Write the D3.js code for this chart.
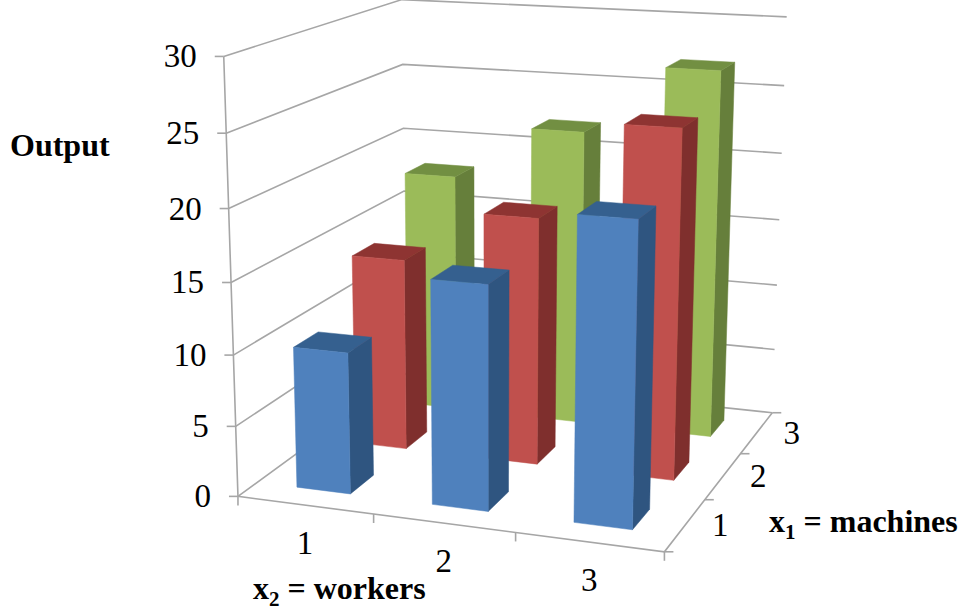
<!DOCTYPE html>
<html>
<head>
<meta charset="utf-8">
<style>
  html, body { margin: 0; padding: 0; background: #fff; }
  svg { display: block; }
  text { font-family: "Liberation Serif", "Times New Roman", serif; fill: #000; }
</style>
<script src="https://cdn.jsdelivr.net/npm/d3@7"></script>
</head>
<body>
<svg id="chart" width="962" height="612"></svg>
<script>
// Output by number of workers (across) and machines (into the page).
const workers = ["1", "2", "3"];
const machines = ["1", "2", "3"];
const outputMachines1 = [10, 15.6, 20.7];
const outputMachines2 = [14, 17.8, 24.7];
const outputMachines3 = [18, 22, 27];
const outputRows = [outputMachines1, outputMachines2, outputMachines3];
const outputTicks = [0, 5, 10, 15, 20, 25, 30];

const faceColors = [
  { front: "#4f81bd", side: "#2f5580", top: "#35608f" },
  { front: "#c0504d", side: "#7f2f2d", top: "#8e3432" },
  { front: "#9bbb59", side: "#667f3b", top: "#728f42" }
];

const svg = d3.select("#chart");
const gridColor = "#a6a6a6";

// Camera calibration: box coordinates [x, y, z] (each 0..1), page position, and fit weight.
const cameraPairs = [
  [0, 0, 0, 239, 495.5, 5], [0, 0, 1/6, 235, 425, 3], [0, 0, 1/3, 233, 354, 3],
  [0, 0, 2/3, 228.5, 209, 1], [0, 0, 5/6, 226, 134, 1], [0, 0, 1, 224, 57, 1],
  [1, 0, 0, 664, 553, 5], [1/3, 0, 0, 373, 517, 1], [2/3, 0, 0, 515, 535, 1],
  [1, 1/3, 0, 706, 499, 1], [1, 2/3, 0, 742, 452, 1],
  [1, 1, 0, 772, 411, 5], [1, 1, 0.5, 780, 220, 1], [1, 1, 2/3, 782, 154, 1],
  [1, 1, 5/6, 784, 87, 1], [1, 1, 1, 787, 18, 1],
  [0, 1, 0, 405, 383, 1], [0, 1, 2/3, 403, 127, 1], [0, 1, 5/6, 403, 63, 1], [0, 1, 1, 402, -1, 1]
];

// Weighted least-squares fit of a projective camera (11 unknowns) through normal equations.
function fitCamera(pairs) {
  const n = 11;
  const A = Array.from({ length: n }, () => new Array(n + 1).fill(0));
  const addRow = (row, rhs, weight) => {
    for (let i = 0; i < n; i++) {
      for (let j = 0; j < n; j++) A[i][j] += weight * row[i] * row[j];
      A[i][n] += weight * row[i] * rhs;
    }
  };
  pairs.forEach(([x, y, z, sx, sy, weight]) => {
    const u = sx / 1000, v = sy / 1000;
    addRow([x, y, z, 1, 0, 0, 0, 0, -u * x, -u * y, -u * z], u, weight);
    addRow([0, 0, 0, 0, x, y, z, 1, -v * x, -v * y, -v * z], v, weight);
  });
  for (let c = 0; c < n; c++) {
    let pivot = c;
    for (let r = c + 1; r < n; r++) if (Math.abs(A[r][c]) > Math.abs(A[pivot][c])) pivot = r;
    [A[c], A[pivot]] = [A[pivot], A[c]];
    for (let r = 0; r < n; r++) {
      if (r === c) continue;
      const f = A[r][c] / A[c][c];
      for (let k = c; k <= n; k++) A[r][k] -= f * A[c][k];
    }
  }
  return A.map((row, i) => row[n] / row[i]);
}

const cam = fitCamera(cameraPairs);

// Data scales into the unit box.
const xScale = d3.scaleBand().domain(workers).range([0, 1]).paddingInner(0.6).paddingOuter(0.3);
const yScale = d3.scaleBand().domain(machines).range([0, 1]).paddingInner(0.6).paddingOuter(0.3);
const zScale = d3.scaleLinear().domain([0, 30]).range([0, 1]);

function project(x, y, z) {
  const w = cam[8] * x + cam[9] * y + cam[10] * z + 1;
  return [
    1000 * (cam[0] * x + cam[1] * y + cam[2] * z + cam[3]) / w,
    1000 * (cam[4] * x + cam[5] * y + cam[6] * z + cam[7]) / w
  ];
}

const line = d3.line();
const closed = d3.line().curve(d3.curveLinearClosed);
const walls = svg.append("g").attr("fill", "none").attr("stroke", gridColor).attr("stroke-width", 1.6);

// Gridlines along the left and back walls.
outputTicks.forEach(t => {
  const z = zScale(t);
  walls.append("path").attr("d", line([project(0, 0, z), project(0, 1, z), project(1, 1, z)]));
});

// Box edges and tick marks.
walls.append("path").attr("d", line([project(0, 0, 1), project(0, 0, 0), project(1, 0, 0), project(1, 1, 0)]));
outputTicks.forEach(t => {
  const p = project(0, 0, zScale(t));
  walls.append("path").attr("d", line([p, [p[0] - 9, p[1]]]));
});
d3.range(4).forEach(i => {
  const p = project(i / 3, 0, 0);
  walls.append("path").attr("d", line([p, [p[0], p[1] + 9]]));
  const q = project(1, i / 3, 0);
  if (i > 0) walls.append("path").attr("d", line([q, [q[0] + 9, q[1]]]));
});
const cornerTick = project(1, 0, 0);
walls.append("path").attr("d", line([cornerTick, [cornerTick[0] + 9, cornerTick[1]]]));

// Bars, painted from the far row forwards and left to right within a row.
const cells = [];
[2, 1, 0].forEach(r => workers.forEach((w, c) => {
  cells.push({ worker: w, machine: machines[r], value: outputRows[r][c], colors: faceColors[r] });
}));

const bars = svg.append("g").selectAll("g").data(cells).join("g");
bars.each(function (d) {
  const x0 = xScale(d.worker), x1 = x0 + xScale.bandwidth();
  const y0 = yScale(d.machine), y1 = y0 + yScale.bandwidth();
  const h = zScale(d.value);
  const g = d3.select(this);
  const face = (pts, fill) => g.append("path")
    .attr("d", closed(pts.map(p => project(...p))))
    .attr("fill", fill).attr("stroke", fill).attr("stroke-width", 0.5);
  face([[x1, y0, 0], [x1, y1, 0], [x1, y1, h], [x1, y0, h]], d.colors.side);
  face([[x0, y0, h], [x1, y0, h], [x1, y1, h], [x0, y1, h]], d.colors.top);
  face([[x0, y0, 0], [x1, y0, 0], [x1, y0, h], [x0, y0, h]], d.colors.front);
});

// Tick labels.
const labels = svg.append("g").attr("font-size", 33);
outputTicks.forEach(t => {
  const p = project(0, 0, zScale(t));
  labels.append("text").attr("x", p[0] - 27).attr("y", p[1] + 11)
    .attr("text-anchor", "end").text(t);
});
workers.forEach(w => {
  const p = project(xScale(w) + xScale.bandwidth() / 2, 0, 0);
  labels.append("text").attr("x", p[0]).attr("y", p[1] + 49)
    .attr("text-anchor", "middle").text(w);
});
machines.forEach(m => {
  const p = project(1, yScale(m) + yScale.bandwidth() / 2, 0);
  labels.append("text").attr("x", p[0] + 35).attr("y", p[1] + 11)
    .attr("text-anchor", "middle").text(m);
});

// Axis titles.
const titles = svg.append("g").attr("font-size", 32).attr("font-weight", "bold");
titles.append("text").attr("x", 10).attr("y", 156).text("Output");
function subscriptTitle(x, y, sub, rest) {
  const t = titles.append("text").attr("x", x).attr("y", y);
  t.append("tspan").text("x");
  t.append("tspan").attr("font-size", 21).attr("dy", 7).text(sub);
  t.append("tspan").attr("dy", -7).text(" = " + rest);
}
subscriptTitle(769, 532, "1", "machines");
subscriptTitle(253, 599, "2", "workers");
</script>
</body>
</html>
